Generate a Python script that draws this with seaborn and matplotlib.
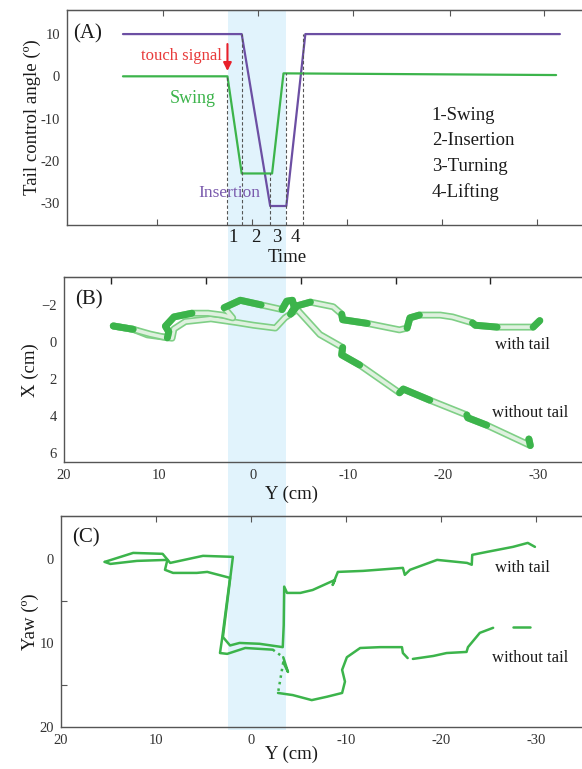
import numpy as np
import pandas as pd
import matplotlib
matplotlib.use("Agg")
import matplotlib.pyplot as plt
import matplotlib.patheffects as pe
from matplotlib.patches import Rectangle
import seaborn as sns

sns.set_style("ticks")
plt.rcParams["font.family"] = ["Liberation Serif", "DejaVu Serif"]
plt.rcParams["axes.unicode_minus"] = False

# ---- (A) tail control angle vs time
purple_t = [0.64, 1.89, 2.19, 2.36, 2.56, 5.24]
purple_deg = [10, 10, -30.7, -30.7, 10, 10]
green_t = [0.64, 1.74, 1.89, 2.21, 2.33, 5.20]
green_deg = [0, 0, -23, -23, 0.7, 0.3]
phase_t = [1.74, 1.89, 2.19, 2.36, 2.54]
phase_top = [0, 10, -23, 0.7, 10]
phase_num_t = [1.80, 2.04, 2.26, 2.45]
phase_num = ["1", "2", "3", "4"]
phase_names = ["1-Swing", "2-Insertion", "3-Turning", "4-Lifting"]

# ---- (B) X vs Y trajectories (cm)
wt_B_y = [14.8, 12.7, 10.9, 9.1, 8.95, 9.3, 8.4, 6.5, 4.8, 3.3, 2.2, 3.1, 1.4, -0.8,
          -3.0, -3.5, -4.1, -4.3, -3.9, -4.6, -6.0, -8.4, -9.3, -9.4, -12.0, -15.4,
          -16.2, -16.5, -17.5, -19.7, -21.0, -23.1, -23.4, -25.7, -29.5, -30.2]
wt_B_x = [-0.86, -0.68, -0.42, -0.22, -0.55, -0.85, -1.35, -1.55, -1.55, -1.45, -1.30,
          -1.85, -2.25, -2.0, -1.75, -2.2, -2.25, -1.85, -1.5, -1.95, -2.15, -1.9, -1.5,
          -1.2, -1.0, -0.65, -0.75, -1.3, -1.45, -1.45, -1.35, -1.03, -0.9, -0.8, -0.8, -1.15]
wt_B_solid = [(0, 1), (3, 7), (11, 13), (14, 20), (22, 24), (26, 28), (31, 33), (34, 35)]

nt_B_y = [14.8, 12.7, 11.2, 8.6, 8.4, 7.2, 4.5, 1.8, 0.0, -2.3, -3.3, -4.6, -7.0, -9.4,
          -9.3, -11.2, -15.4, -15.8, -18.6, -22.5, -22.6, -24.6, -29.2, -29.05]
nt_B_x = [-0.86, -0.68, -0.38, -0.2, -0.7, -1.1, -1.25, -1.05, -0.9, -0.75, -1.3, -1.75,
          -0.4, 0.3, 0.7, 1.25, 2.75, 2.55, 3.15, 3.95, 4.1, 4.5, 5.6, 5.25]
nt_B_solid = [(13, 15), (16, 18), (19, 21), (22, 23)]

# ---- (C) yaw vs Y
wt_C_y = [15.4, 12.4, 9.3, 8.5, 5.05, 1.9, 2.95, 2.2, 1.2, -0.9, -3.35, -3.45, -3.5,
          -3.8, -5.2, -6.5, -8.85, -8.6, -9.15, -11.8, -16.0, -16.2, -16.75, -19.6,
          -22.75, -23.25, -23.3, -24.85, -27.6, -29.15, -29.9]
wt_C_yaw = [0.36, -0.71, -0.6, 0.48, -0.36, -0.24, 9.3, 10.3, 10.0, 10.1, 10.5, 7.9, 3.3,
            4.05, 4.05, 3.7, 2.5, 3.1, 1.55, 1.43, 1.07, 1.9, 1.3, 0.12, 0.48, 0.7, -0.48,
            -0.83, -1.43, -1.9, -1.43]

nt_C_y = [15.4, 14.8, 12.0, 8.8, 9.05, 8.2, 5.7, 4.6, 2.2, 3.05, 3.26, 2.5, 0.6, -2.3,
          -3.4, -3.9, -3.4, -2.85, -4.4, -6.4, -8.0, -9.6, -9.9, -9.6, -10.1, -11.5,
          -13.6, -15.9, -16.0, -16.5, -17.05, -19.2, -20.6, -22.7, -22.85, -24.1, -25.5,
          -27.6, -29.4]
nt_C_yaw = [0.36, 0.6, 0.24, 0.12, 1.3, 1.67, 1.67, 1.55, 2.26, 9.6, 11.2, 11.3, 10.6,
            10.8, 11.7, 13.45, 12.3, 15.95, 16.2, 16.8, 16.4, 15.95, 14.6, 13.2, 11.7,
            10.6, 10.5, 10.5, 11.2, 11.8, 11.9, 11.55, 11.2, 11.07, 10.5, 8.8, 8.2, 8.1, 8.1]
nt_C_dotted = [(13, 14), (16, 17)]
nt_C_gaps = [(29, 30), (36, 37)]

GREEN = "#3cb44b"
PURPLE = "#6c4fa3"
TXT = "#1a1a1a"
TICK = "#333333"

fig = plt.figure(figsize=(5.82, 7.69), dpi=100)
axA = fig.add_axes([0.115, 0.7074, 0.895, 0.2796])
axB = fig.add_axes([0.110, 0.399, 0.900, 0.2406])
axC = fig.add_axes([0.1048, 0.0546, 0.9052, 0.2744])

# light blue band across all panels
fig.add_artist(Rectangle((228 / 582, 1 - 730 / 769), 58 / 582, 720 / 769,
                         transform=fig.transFigure, color="#e1f3fc", zorder=-1, lw=0))

for ax in (axA, axB, axC):
    ax.patch.set_alpha(0)
    for s in ax.spines.values():
        s.set_color("#555555")
        s.set_linewidth(1.0)
    ax.tick_params(direction="in", length=4, width=0.8, colors="#555555",
                   labelcolor=TICK, labelsize=10.5, pad=5)

# ---------- panel A
sns.lineplot(x=purple_t, y=purple_deg, sort=False, estimator=None, ax=axA,
             color=PURPLE, lw=1.6)
sns.lineplot(x=green_t, y=green_deg, sort=False, estimator=None, ax=axA,
             color=GREEN, lw=1.6)
axA.vlines(phase_t, -35.2, phase_top, colors="#555555", linestyles=(0, (3, 2)), lw=0.8)
axA.set_xlim(0.05, 5.534)
axA.set_ylim(-35.2, 15.7)
axA.set_yticks([-30, -20, -10, 0, 10])
axA.set_xticks([1, 2, 3, 4, 5])
axA.set_xticklabels([])
axA.tick_params(axis="y", length=0)
topA = axA.secondary_xaxis("top")
topA.set_xticks([1.06, 2.06, 3.06, 4.08, 5.07])
topA.tick_params(direction="in", length=4, width=0.8, colors="#555555", labeltop=False)
topA.spines["top"].set_color("#555555")
axA.set_ylabel("Tail control angle (º)", fontsize=13.5, color=TXT)
axA.yaxis.set_label_coords(-0.050, 0.5)
axA.text(0.113, 10, "(A)", fontsize=15, color=TXT, ha="left", va="center")
axA.annotate("", xy=(1.74, 0.6), xytext=(1.74, 8.3),
             arrowprops=dict(arrowstyle="-|>", color="#e8202a", lw=1.5, mutation_scale=12))
axA.text(1.68, 4.8, "touch signal", fontsize=12, color="#e83a3a", ha="right", va="center")
axA.text(1.134, -5.2, "Swing", fontsize=13, color=GREEN, ha="left", va="center")
axA.text(1.43, -27.6, "Insertion", fontsize=12.5, color="#7a5aad", ha="left", va="center")
for i, name in enumerate(phase_names):
    axA.text(3.89, -9.3 - 6.0 * i, name, fontsize=13.5, color=TXT, ha="left", va="center")
trA = axA.get_xaxis_transform()
for t, n in zip(phase_num_t, phase_num):
    axA.text(t, -0.056, n, transform=trA, fontsize=13.5, color=TXT, ha="center", va="center")
axA.text(2.37, -0.153, "Time", transform=trA, fontsize=13.5, color=TXT, ha="center", va="center")


# ---------- panel B
def tube(ax, ys, xs, solid):
    df = pd.DataFrame({"Y": ys, "X": xs})
    sns.lineplot(data=df, x="Y", y="X", sort=False, estimator=None, ax=ax,
                 color="#dff1df", lw=2.6, solid_capstyle="round",
                 path_effects=[pe.Stroke(linewidth=5.0, foreground="#7fcf86"), pe.Normal()])
    for a, b in solid:
        seg = df.iloc[a:b + 1]
        sns.lineplot(data=seg, x="Y", y="X", sort=False, estimator=None, ax=ax,
                     color=GREEN, lw=5.0, solid_capstyle="round")


tube(axB, nt_B_y, nt_B_x, nt_B_solid)
tube(axB, wt_B_y, wt_B_x, wt_B_solid)
axB.set_xlim(20, -35.27)
axB.set_ylim(6.5, -3.5)
axB.set_xticks([20, 10, 0, -10, -20, -30])
axB.set_xticklabels(["20", "10", "0", "-10", "-20", "-30"])
axB.set_yticks([-2, 0, 2, 4, 6])
axB.set_yticklabels(["\u22122", "0", "2", "4", "6"])
axB.tick_params(axis="both", length=0)
topB = axB.secondary_xaxis("top")
topB.set_xticks([15, 5, -5, -15, -25])
topB.tick_params(direction="in", length=5, width=1.0, colors="#222222", labeltop=False)
topB.spines["top"].set_color("#555555")
axB.set_xlabel("Y (cm)", fontsize=13.5, color=TXT)
axB.xaxis.set_label_coords(0.435, -0.125)
axB.set_ylabel("X (cm)", fontsize=13.5, color=TXT)
axB.yaxis.set_label_coords(-0.048, 0.5)
axB.text(18.84, -2.27, "(B)", fontsize=15, color=TXT, ha="left", va="center")
axB.text(-25.46, 0.16, "with tail", fontsize=12, color=TXT, ha="left", va="center")
axB.text(-25.15, 3.84, "without tail", fontsize=12, color=TXT, ha="left", va="center")

# ---------- panel C
dfw = pd.DataFrame({"Y": wt_C_y, "Yaw": wt_C_yaw})
sns.lineplot(data=dfw, x="Y", y="Yaw", sort=False, estimator=None, ax=axC, color=GREEN, lw=1.8)

dfn = pd.DataFrame({"Y": nt_C_y, "Yaw": nt_C_yaw})
breaks = sorted([(a, b, ":") for a, b in nt_C_dotted] + [(a, b, "") for a, b in nt_C_gaps])
start = 0
for a, b, style in breaks:
    sns.lineplot(data=dfn.iloc[start:a + 1], x="Y", y="Yaw", sort=False, estimator=None,
                 ax=axC, color=GREEN, lw=1.8)
    if style:
        sns.lineplot(data=dfn.iloc[a:b + 1], x="Y", y="Yaw", sort=False, estimator=None,
                     ax=axC, color=GREEN, lw=1.8, linestyle=style)
    start = b
sns.lineplot(data=dfn.iloc[start:], x="Y", y="Yaw", sort=False, estimator=None,
             ax=axC, color=GREEN, lw=1.8)

axC.set_xlim(20, -35.47)
axC.set_ylim(20, -5.1)
axC.set_xticks([20, 10, 0, -10, -20, -30])
axC.set_xticklabels(["20", "10", "0", "-10", "-20", "-30"])
axC.set_yticks([0, 10, 20])
axC.set_yticks([5, 15], minor=True)
axC.tick_params(axis="x", length=0)
axC.tick_params(axis="y", which="major", length=0)
axC.tick_params(axis="y", which="minor", direction="in", length=4, width=0.8, colors="#555555")
topC = axC.secondary_xaxis("top")
topC.set_xticks([10, 0, -10, -20, -30])
topC.tick_params(direction="in", length=4, width=0.8, colors="#555555", labeltop=False)
topC.spines["top"].set_color("#555555")
axC.set_xlabel("Y (cm)", fontsize=13.5, color=TXT)
axC.xaxis.set_label_coords(0.438, -0.088)
axC.set_ylabel("Yaw (º)", fontsize=13.5, color=TXT)
axC.yaxis.set_label_coords(-0.042, 0.5)
axC.text(18.84, -2.5, "(C)", fontsize=15, color=TXT, ha="left", va="center")
axC.text(-25.68, 1.07, "with tail", fontsize=12, color=TXT, ha="left", va="center")
axC.text(-25.37, 11.8, "without tail", fontsize=12, color=TXT, ha="left", va="center")

for ax in (axA, axB, axC):
    if ax.get_legend():
        ax.get_legend().remove()

fig.savefig("out.png", dpi=100)
